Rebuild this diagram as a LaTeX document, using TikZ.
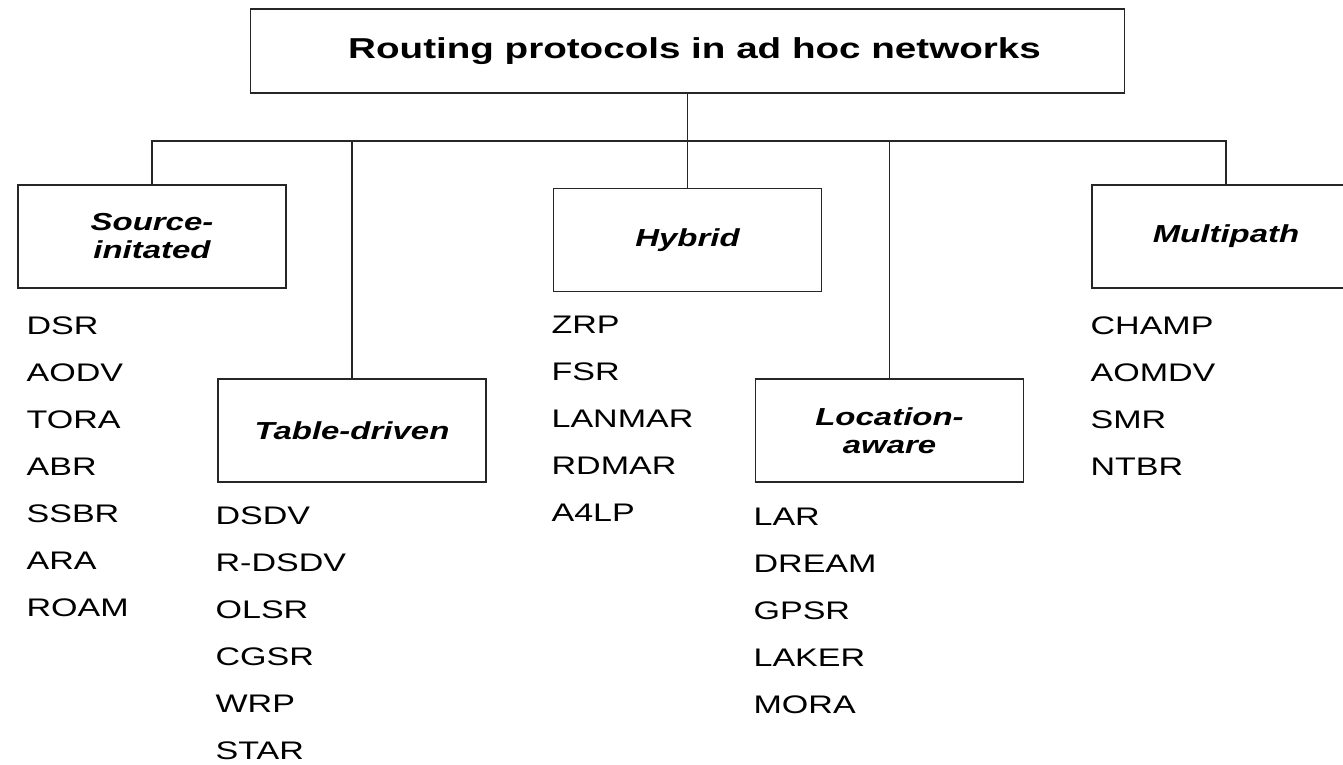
\documentclass[tikz,border=0pt]{standalone}
\usepackage{fontspec}
\setmainfont{Liberation Sans}[FakeStretch=1.34]
\usetikzlibrary{positioning}

\begin{document}
\begin{tikzpicture}[x=0.5pt,y=-0.5pt,line width=0.6pt,draw=black!85,
                    box/.style={draw,minimum width=134pt,minimum height=51.5pt,
                                align=center,
                                font=\fontsize{12.3}{14}\selectfont\bfseries\itshape},
                    item/.style={anchor=base west,inner sep=0pt,
                                 font=\fontsize{12.7}{14}\selectfont}]
  \useasboundingbox (0,0) rectangle (1343,765);
  \node[draw,minimum width=437pt,minimum height=42pt,
        font=\fontsize{14.4}{17}\selectfont\bfseries] (R) at (687.5,51)
        {\hspace*{7pt}Routing protocols in ad hoc networks};
  \node[box] (S) at (152,236.5)   {Source-\\initated};
  \node[box] (T) at (352,430.5)   {Table-driven};
  \node[box] (H) at (687.5,240)   {Hybrid};
  \node[box] (L) at (889.5,430.5) {Location-\\aware};
  \node[box] (M) at (1226,236.5)  {Multipath};
  \coordinate (bus) at (0,141);
  \draw (R.south) -- (H.north);
  \draw (S.north) |- (M.north |- bus) -- (M.north);
  \draw (T.north) -- (T.north |- bus);
  \draw (L.north) -- (L.north |- bus);
  % protocol lists
  \foreach \p [count=\i from 0] in {DSR,AODV,TORA,ABR,SSBR,ARA,ROAM}
    \node[item] (S\i) at (26,334+47*\i) {\p};
  \foreach \p [count=\i from 0] in {DSDV,R-DSDV,OLSR,CGSR,WRP,STAR}
    \node[item] (T\i) at (215,524+47*\i) {\p};
  \foreach \p [count=\i from 0] in {ZRP,FSR,LANMAR,RDMAR,A4LP}
    \node[item] (H\i) at (551,333+47*\i) {\p};
  \foreach \p [count=\i from 0] in {LAR,DREAM,GPSR,LAKER,MORA}
    \node[item] (L\i) at (753,525+47*\i) {\p};
  \foreach \p [count=\i from 0] in {CHAMP,AOMDV,SMR,NTBR}
    \node[item] (M\i) at (1090,334+47*\i) {\p};
\end{tikzpicture}
\end{document}
